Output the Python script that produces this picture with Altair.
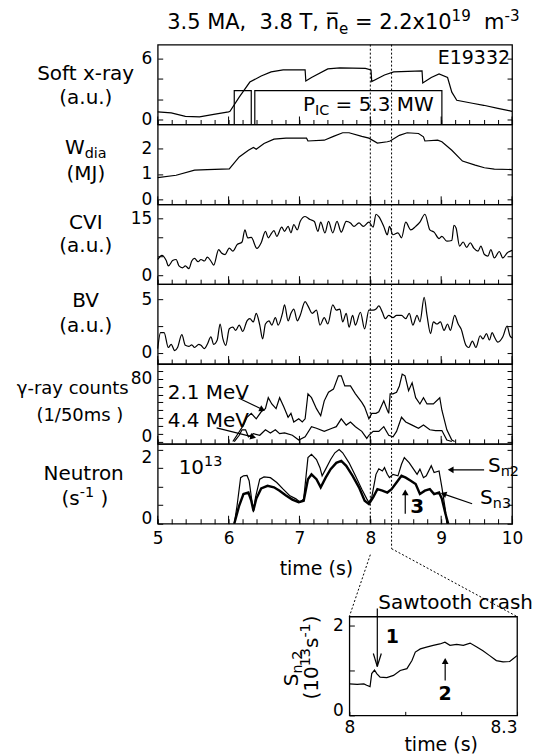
import math
import altair as alt
import pandas as pd

# ---------------- data ----------------
SXR_T = [5.0, 5.19, 5.39, 5.59, 5.79, 6.0, 6.02, 6.15, 6.3, 6.46, 6.6, 6.77, 7.08, 7.09, 7.17, 7.4, 7.57,
         7.93, 8.01, 8.02, 8.2, 8.33, 8.73, 8.74, 8.86, 8.97, 9.09, 9.15, 9.22, 9.44, 9.6, 9.8, 10.0]
SXR_V = [0.75, 0.65, 0.3, 0.25, 0.5, 0.75, 0.8, 2.2, 3.7, 4.3, 4.7, 4.9, 4.9, 3.8, 4.15, 5.0, 5.1,
         5.05, 4.9, 3.75, 4.4, 4.7, 4.8, 3.6, 4.15, 4.5, 4.15, 2.7, 1.9, 1.6, 1.4, 1.1, 0.8]

PIC_T = [5.0, 6.08, 6.08, 6.32, 6.32, 6.37, 6.37, 9.01, 9.01, 10.0]
PIC_MW = [0, 0, 5.3, 5.3, 0, 0, 5.3, 5.3, 0, 0]

WDIA_T = [5.0, 5.26, 5.52, 5.7, 6.01, 6.15, 6.28, 6.35, 6.39, 6.5, 6.64, 6.81, 7.1, 7.12, 7.35, 7.48,
          7.61, 7.7, 7.88, 7.98, 8.1, 8.24, 8.28, 8.41, 8.52, 8.68, 8.75, 8.77, 8.95, 9.01, 9.15,
          9.3, 9.48, 9.61, 9.75, 10.0]
WDIA_V = [0.86, 0.95, 1.15, 1.17, 1.2, 1.66, 1.92, 2.03, 1.96, 2.18, 2.35, 2.39, 2.39, 2.28, 2.31, 2.46,
          2.6, 2.6, 2.46, 2.39, 2.2, 2.25, 2.28, 2.5, 2.6, 2.57, 2.44, 2.28, 2.31, 2.25, 1.92,
          1.5, 1.34, 1.24, 1.19, 1.17]

CVI_T = [5.0, 5.06, 5.12, 5.15, 5.21, 5.26, 5.3, 5.35, 5.39, 5.44, 5.48, 5.52, 5.57, 5.61, 5.66, 5.7,
         5.75, 5.79, 5.86, 5.9, 5.95, 6.01, 6.06, 6.12, 6.19, 6.23, 6.27, 6.32, 6.4, 6.46, 6.52, 6.56,
         6.61, 6.64, 6.68, 6.75, 6.79, 6.84, 6.88, 6.92, 6.97, 7.01, 7.08, 7.15, 7.21, 7.26, 7.3,
         7.36, 7.41, 7.47, 7.53, 7.59, 7.66, 7.72, 7.77, 7.84, 7.9, 7.98, 8.04, 8.08, 8.12, 8.19,
         8.24, 8.27, 8.32, 8.39, 8.44, 8.5, 8.57, 8.64, 8.7, 8.77, 8.84, 8.9, 8.97, 9.01, 9.08,
         9.15, 9.18, 9.21, 9.26, 9.31, 9.36, 9.41, 9.46, 9.52, 9.56, 9.61, 9.66, 9.7, 9.75, 9.82,
         9.87, 9.93, 10.0]
CVI_V = [4.1, 5.2, 3.8, 2.4, 3.8, 4.1, 2.4, 1.9, 2.4, 1.7, 3.7, 4.4, 3.5, 4.1, 3.7, 4.7,
         3.7, 2.6, 6.7, 5.8, 5.4, 7.1, 6.3, 8.0, 8.7, 11.9, 9.8, 9.9, 7.0, 8.5, 11.5, 9.8,
         11.1, 11.7, 10.2, 12.6, 11.5, 12.8, 11.1, 13.3, 11.9, 14.1, 15.4, 14.6, 14.1, 11.5, 13.9,
         11.1, 14.1, 11.1, 14.1, 11.3, 14.1, 13.7, 12.8, 13.7, 12.8, 13.9, 12.6, 16.0, 15.4, 12.8,
         10.6, 12.8, 10.6, 11.1, 9.8, 13.9, 11.9, 12.8, 13.9, 16.0, 11.9, 11.3, 9.6, 10.2, 8.9,
         9.1, 13.1, 12.4, 7.6, 8.7, 7.3, 8.5, 7.1, 6.3, 7.6, 5.4, 5.0, 6.7, 4.5, 6.2,
         4.5, 5.8, 6.5]

BV_T = [5.0, 5.04, 5.09, 5.15, 5.19, 5.24, 5.28, 5.34, 5.39, 5.44, 5.48, 5.52, 5.58, 5.61, 5.66, 5.7,
        5.75, 5.79, 5.84, 5.88, 5.92, 5.96, 6.01, 6.06, 6.1, 6.15, 6.2, 6.26, 6.3, 6.35, 6.39, 6.44,
        6.48, 6.52, 6.57, 6.61, 6.66, 6.7, 6.76, 6.79, 6.84, 6.88, 6.92, 6.97, 7.01, 7.08, 7.12,
        7.18, 7.24, 7.29, 7.35, 7.4, 7.47, 7.52, 7.57, 7.61, 7.66, 7.7, 7.75, 7.79, 7.86, 7.92,
        7.98, 8.04, 8.08, 8.12, 8.17, 8.21, 8.26, 8.32, 8.37, 8.44, 8.5, 8.55, 8.6, 8.66, 8.7,
        8.76, 8.8, 8.85, 8.89, 8.94, 8.99, 9.04, 9.09, 9.13, 9.19, 9.24, 9.28, 9.35, 9.39, 9.44,
        9.49, 9.55, 9.59, 9.64, 9.68, 9.72, 9.75, 9.8, 9.87, 9.93, 9.97, 10.0]
BV_V = [0.4, 1.9, 1.9, 0.5, 0.8, 0.2, 0.5, 1.7, 0.7, 0.6, 0.75, 0.5, 0.8, 0.7, 0.4, 0.8,
        1.5, 0.8, 1.2, 2.7, 1.3, 0.7, 2.25, 2.4, 2.1, 2.6, 2.0, 3.0, 3.2, 2.9, 3.7, 2.6,
        1.3, 2.7, 3.0, 2.6, 3.3, 2.6, 3.7, 4.5, 3.0, 3.7, 4.1, 3.0, 3.5, 4.8, 4.4,
        3.7, 4.0, 2.6, 3.3, 2.7, 4.5, 4.0, 4.1, 2.9, 3.7, 2.4, 3.5, 2.6, 3.8, 2.25,
        4.0, 4.0, 4.1, 4.4, 3.8, 3.2, 3.5, 3.3, 3.5, 3.5, 3.2, 3.7, 2.6, 3.5, 2.9,
        5.2, 3.5, 1.8, 2.9, 2.7, 2.9, 2.1, 2.7, 2.1, 3.5, 2.7, 2.25, 0.7, 0.5, 1.1,
        0.5, 1.6, 1.3, 1.8, 1.2, 1.9, 1.5, 1.0, 1.5, 2.5, 1.6, 1.4]

G21_T = [6.06, 6.15, 6.21, 6.26, 6.32, 6.39, 6.46, 6.52, 6.56, 6.61, 6.67, 6.72, 6.78, 6.84, 6.88,
         6.92, 6.99, 7.04, 7.08, 7.12, 7.17, 7.24, 7.3, 7.35, 7.41, 7.48, 7.55, 7.59, 7.64, 7.72,
         7.79, 7.88, 7.92, 7.98, 8.02, 8.08, 8.12, 8.19, 8.24, 8.26, 8.28, 8.32, 8.37, 8.41, 8.45,
         8.49, 8.54, 8.59, 8.64, 8.7, 8.75, 8.8, 8.89, 8.98, 9.01, 9.08, 9.15, 9.19]
G21_V = [0, 12.5, 21, 31, 36, 29, 38, 42, 56, 48, 42, 56, 44, 31, 36,
         25, 29, 25, 29, 61, 56, 42, 33, 52, 63, 67, 84, 84, 71, 71,
         61, 50, 44, 29, 36, 36, 38, 52, 40, 36, 61, 61, 63, 71, 86,
         84, 65, 75, 56, 48, 56, 48, 48, 56, 40, 15, 2, 0]

G44_T = [6.08, 6.15, 6.19, 6.24, 6.28, 6.35, 6.44, 6.52, 6.59, 6.66, 6.72, 6.79, 6.9, 6.99, 7.08,
         7.17, 7.24, 7.35, 7.46, 7.52, 7.59, 7.66, 7.72, 7.79, 7.88, 7.95, 7.98, 8.04, 8.12, 8.19,
         8.26, 8.32, 8.37, 8.44, 8.5, 8.59, 8.68, 8.75, 8.84, 8.92, 9.01, 9.08, 9.15]
G44_V = [0, 8, 15, 15, 6, 10, 8, 15, 11, 15, 10, 11, 8, 2, 6,
         19, 17, 13, 17, 19, 29, 21, 25, 19, 13, 4, 8, 13, 13, 19,
         8, 6, 13, 31, 25, 21, 17, 21, 15, 14, 14, 2, 0]

SN2_T = [6.08, 6.12, 6.17, 6.21, 6.26, 6.29, 6.35, 6.38, 6.44, 6.5, 6.59, 6.68, 6.77, 6.86, 6.95,
         7.01, 7.06, 7.12, 7.17, 7.24, 7.29, 7.32, 7.37, 7.44, 7.5, 7.56, 7.61, 7.7, 7.79, 7.88,
         7.95, 7.98, 8.02, 8.08, 8.12, 8.17, 8.2, 8.24, 8.27, 8.32, 8.39, 8.44, 8.48, 8.55, 8.61,
         8.66, 8.7, 8.75, 8.79, 8.86, 8.9, 8.97, 9.01, 9.06, 9.08]
SN2_V = [0, 0.49, 1.24, 1.29, 1.3, 1.16, 0.31, 0.71, 1.2, 1.26, 1.24, 1.11, 0.93, 0.76, 0.67,
         0.58, 0.67, 1.78, 1.87, 1.73, 1.51, 1.29, 1.47, 1.73, 1.91, 2.0, 1.91, 1.64, 1.29, 0.93,
         0.67, 0.58, 0.71, 1.33, 1.48, 1.42, 1.51, 1.33, 1.24, 1.33, 1.29, 1.6, 1.78, 1.64, 1.47,
         1.33, 1.47, 1.24, 1.29, 1.56, 1.38, 1.42, 0.98, 0.36, 0]

SN3_T = [6.08, 6.15, 6.21, 6.28, 6.32, 6.35, 6.39, 6.46, 6.55, 6.64, 6.72, 6.81, 6.9, 6.99, 7.06,
         7.12, 7.17, 7.24, 7.3, 7.37, 7.44, 7.52, 7.59, 7.66, 7.75, 7.84, 7.92, 7.98, 8.04, 8.1,
         8.17, 8.24, 8.3, 8.37, 8.44, 8.5, 8.57, 8.64, 8.7, 8.77, 8.84, 8.9, 8.97, 9.01, 9.06, 9.1]
SN3_V = [0, 0.49, 0.8, 0.84, 0.62, 0.36, 0.67, 0.95, 1.02, 0.98, 0.89, 0.76, 0.65, 0.58, 0.62,
         1.2, 1.33, 1.2, 0.98, 1.24, 1.47, 1.64, 1.69, 1.56, 1.29, 0.98, 0.62, 0.53, 0.71, 0.93,
         0.89, 0.84, 0.93, 1.11, 1.29, 1.24, 1.16, 1.07, 0.8, 0.89, 0.93, 0.8, 0.84, 0.67, 0.27, 0]

ZOOM_T = [8.0, 8.014, 8.026, 8.031, 8.037, 8.04, 8.045, 8.049, 8.055, 8.067, 8.079, 8.091, 8.103,
          8.112, 8.118, 8.127, 8.138, 8.15, 8.162, 8.171, 8.18, 8.192, 8.204, 8.216, 8.228, 8.239,
          8.251, 8.263, 8.275, 8.287, 8.293, 8.3]
ZOOM_V = [0.7, 0.69, 0.7, 0.67, 0.64, 0.93, 1.01, 0.93, 0.85, 0.84, 0.89, 1.0, 1.04,
          1.22, 1.41, 1.48, 1.52, 1.56, 1.59, 1.63, 1.56, 1.58, 1.56, 1.61, 1.52, 1.44,
          1.33, 1.22, 1.19, 1.2, 1.26, 1.33]

MARK_T = [8.0, 8.3]
TIME_TICKS = [5, 6, 7, 8, 9, 10]

# ---------------- layout / style ----------------
FONT = "DejaVu Sans"
PW, PH = 355, 80
IW, IH = 168, 99
INSET_DX, INSET_GAP = 192, 93
LW = 1.2
ONE = pd.DataFrame({"k": [0]})
MINOR = [round(5 + 0.2 * k, 1) for k in range(26)]
PX_S = PW / 5.0

W = {' ': 0.318, '(': 0.39, ')': 0.39, ',': 0.318, '-': 0.361, '.': 0.318, '/': 0.337, '=': 0.838,
     'A': 0.684, 'B': 0.686, 'C': 0.698, 'E': 0.632, 'I': 0.295, 'J': 0.295, 'M': 0.863, 'N': 0.748,
     'P': 0.603, 'S': 0.635, 'T': 0.611, 'V': 0.684, 'W': 0.989, 'a': 0.613, 'b': 0.635, 'c': 0.55,
     'd': 0.635, 'e': 0.615, 'f': 0.352, 'g': 0.635, 'h': 0.634, 'i': 0.278, 'k': 0.579, 'l': 0.278,
     'm': 0.974, 'n': 0.634, 'o': 0.612, 'r': 0.411, 's': 0.521, 't': 0.392, 'u': 0.634, 'v': 0.592,
     'w': 0.818, 'x': 0.592, 'y': 0.592, '\u03b3': 0.6, '\u0305': 0.0}


def tw(s, size):
    return sum(W.get(c, 0.636 if c.isdigit() else 0.6) for c in s) * size


def series(T, V):
    assert len(T) == len(V), (len(T), len(V))
    return pd.DataFrame({"t": T, "v": V, "i": list(range(len(T)))})


def label_expr(vals):
    expr = "''"
    for val in reversed(vals):
        expr = f"(abs(datum.value - {val}) < 1e-6 ? '{val:g}' : {expr})"
    return expr


def x_main(labels):
    return alt.X("t:Q", scale=alt.Scale(domain=[5, 10], nice=False, zero=False),
                 axis=alt.Axis(values=MINOR, labels=labels, labelExpr=label_expr(TIME_TICKS),
                               offset=-5, tickSize=5, domain=False, grid=False, title=None,
                               labelPadding=7, labelFlush=False, labelOverlap=False))


def y_enc(domain, values, labeled, bottom_label=None, top_label=None):
    kw = dict(values=values, labelExpr=label_expr(labeled), offset=-5, tickSize=5, domain=False,
              grid=False, title=None, labelPadding=6, labelFlush=False, labelOverlap=False)
    if bottom_label is not None or top_label is not None:
        tests = []
        if bottom_label is not None:
            tests.append(f"abs(datum.value - {bottom_label}) < 1e-6 ? 'alphabetic'")
        if top_label is not None:
            tests.append(f"abs(datum.value - {top_label}) < 1e-6 ? 'top'")
        kw["labelBaseline"] = {"expr": " : ".join(tests) + " : 'middle'"}
    return alt.Y("v:Q", scale=alt.Scale(domain=domain, nice=False, zero=False), axis=alt.Axis(**kw))


def y_plain(domain):
    return alt.Y("v:Q", scale=alt.Scale(domain=domain, nice=False, zero=False), axis=None)


def y_right(domain, values):
    return alt.Y("v:Q", scale=alt.Scale(domain=domain, nice=False, zero=False),
                 axis=alt.Axis(orient="right", values=values, labels=False, offset=-5, tickSize=5,
                               domain=False, grid=False, title=None))


def line(T, V, xe, ye, width=LW, interp="linear", opacity=1):
    return alt.Chart(series(T, V)).mark_line(color="black", strokeWidth=width, interpolate=interp,
                                             strokeOpacity=opacity).encode(
        x=xe, y=ye, order=alt.Order("i:Q"))


def marks(xe):
    return alt.Chart(pd.DataFrame({"t": MARK_T})).mark_rule(
        color="black", strokeWidth=1, strokeDash=[2, 2]).encode(x=xe)


def major_ticks(xe):
    # longer inward ticks at whole seconds
    return alt.Chart(pd.DataFrame({"t": TIME_TICKS})).mark_rule(color="black", strokeWidth=1).encode(
        x=xe, y=alt.value(PH - 8), y2=alt.value(PH))


def txt(s, x, y, size=20, align="left", weight="normal", angle=0):
    return alt.Chart(ONE).mark_text(text=s.replace(" ", "\u00a0"), font=FONT, fontSize=size,
                                    fontWeight=weight, align=align, baseline="middle", angle=angle,
                                    color="black").encode(x=alt.value(x), y=alt.value(y))


def _split(t):
    core = t.strip(" ")
    lead = len(t) - len(t.lstrip(" "))
    return core, lead


def rich(pieces, x, y, size=20, anchor="left", sup=0.3):
    sizes = [size * 0.72 if m in ("sup", "sub") else size for _, m in pieces]
    widths = [tw(t, s) for (t, _), s in zip(pieces, sizes)]
    total = sum(widths)
    if anchor == "center":
        x -= total / 2
    elif anchor == "right":
        x -= total
    out = []
    for (t, m), s, w in zip(pieces, sizes, widths):
        dy = -sup * size if m == "sup" else (0.3 * size if m == "sub" else 0)
        core, lead = _split(t)
        out.append(txt(core, x + lead * W[" "] * s, y + dy, s, weight="bold" if m == "b" else "normal"))
        x += w
    return out


def rich_up(pieces, x, yc, size=20):
    sizes = [size * 0.72 if m in ("sup", "sub") else size for _, m in pieces]
    widths = [tw(t, s) for (t, _), s in zip(pieces, sizes)]
    y = yc + sum(widths) / 2
    out = []
    for (t, m), s, w in zip(pieces, sizes, widths):
        dx = -0.3 * size if m == "sup" else (0.3 * size if m == "sub" else 0)
        core, lead = _split(t)
        out.append(txt(core, x + dx, y - lead * W[" "] * s, s, angle=270))
        y -= w
    return out


def rule_px(x1, y1, x2, y2, width=LW, dash=None, opacity=1):
    kw = dict(color="black", strokeWidth=width, strokeOpacity=opacity)
    if dash:
        kw["strokeDash"] = dash
    return alt.Chart(ONE).mark_rule(**kw).encode(x=alt.value(x1), y=alt.value(y1),
                                                 x2=alt.value(x2), y2=alt.value(y2))


def arrow_px(x1, y1, x2, y2, size=45):
    ang = math.degrees(math.atan2(x2 - x1, -(y2 - y1))) % 360
    L = math.hypot(x2 - x1, y2 - y1)
    ux, uy = (x2 - x1) / L, (y2 - y1) / L
    head = alt.Chart(ONE).mark_point(shape="triangle-up", filled=True, size=size, angle=ang,
                                     color="black", opacity=1).encode(
        x=alt.value(x2 - 3.5 * ux), y=alt.value(y2 - 3.5 * uy))
    return [rule_px(x1, y1, x2 - 4 * ux, y2 - 4 * uy), head]


def ytitle(lines, x=-72, size=20):
    out = []
    for pieces, y, cx in lines:
        out += rich(pieces, cx if cx is not None else x, y, size, "center")
    return out


def blank(w, h):
    return alt.Chart(ONE).mark_point(opacity=0).encode(x=alt.value(0), y=alt.value(0)).properties(
        width=w, height=h, view=alt.ViewBackground(stroke="transparent"))


def panel(layers):
    return alt.layer(*layers).resolve_scale(y="independent").properties(width=PW, height=PH)


xe = x_main(False)

# ---------------- panel 0 : soft x-ray ----------------
D = [-0.5, 7.4]
TK = [0, 2, 4, 6]
p0_layers = [line(SXR_T, SXR_V, xe, y_enc(D, TK, [0, 6])),
             line(PIC_T, PIC_MW, xe, y_plain([0, 12.5])),
             line(SXR_T, SXR_V, xe, y_right(D, TK), opacity=0), marks(xe), major_ticks(xe)]
p0_layers += rich([("3.5 MA,  3.8 T, ", "n"), ("n\u0305", "n"), ("e", "sub"), (" = 2.2x10", "n"),
                   ("19", "sup"), ("  m", "n"), ("-3", "sup")], 186, -22, 21, "center")
p0_layers += [txt("E19332", 353, 13, 19, align="right")]
p0_layers += rich([("P", "n"), ("IC", "sub"), (" = 5.3 MW", "n")], 211, 60, 20, "center")
p0_layers += ytitle([([("Soft x-ray", "n")], 29, None), ([("(a.u.)", "n")], 53, None)])
p0_layers += [rule_px(-149, -35, -148, -35, opacity=0)]
p0 = panel(p0_layers)

# ---------------- panel 1 : W_dia ----------------
D = [-0.18, 2.92]
TK = [0, 1, 2]
p1_layers = [line(WDIA_T, WDIA_V, xe, y_enc(D, TK, TK)),
             line(WDIA_T, WDIA_V, xe, y_right(D, TK), opacity=0), marks(xe), major_ticks(xe)]
p1_layers += ytitle([([("W", "n"), ("dia", "sub")], 24, None), ([("(MJ)", "n")], 50, None)])
p1 = panel(p1_layers)

# ---------------- panel 2 : CVI ----------------
D = [-2.4, 18.6]
TK = [0, 5, 10, 15]
p2_layers = [line(CVI_T, CVI_V, xe, y_enc(D, TK, [0, 15]), interp="monotone"),
             line(CVI_T, CVI_V, xe, y_right(D, TK), opacity=0), marks(xe), major_ticks(xe)]
p2_layers += ytitle([([("CVI", "n")], 19, None), ([("(a.u.)", "n")], 42, None)])
p2 = panel(p2_layers)

# ---------------- panel 3 : BV ----------------
D = [-1.05, 6.43]
TK = [0, 2.5, 5]
p3_layers = [line(BV_T, BV_V, xe, y_enc(D, TK, [0, 5]), interp="monotone"),
             line(BV_T, BV_V, xe, y_right(D, TK), opacity=0), marks(xe), major_ticks(xe)]
p3_layers += ytitle([([("BV", "n")], 17, None), ([("(a.u.)", "n")], 42, None)])
p3 = panel(p3_layers)

# ---------------- panel 4 : gamma ----------------
D = [-3, 99]
TK = list(range(0, 100, 10))
p4_layers = [line(G21_T, G21_V, xe, y_enc(D, TK, [0, 80], bottom_label=0)),
             line(G44_T, G44_V, xe, y_plain(D)),
             line(G21_T, G21_V, xe, y_right(D, TK), opacity=0), marks(xe), major_ticks(xe)]
p4_layers += [txt("2.1 MeV", 10, 29), txt("4.4 MeV", 10, 57)]
p4_layers += arrow_px(81, 34, 108, 47) + arrow_px(59, 64, 99, 74)
p4_layers += ytitle([([("\u03b3-ray counts", "n")], 25, -85), ([("(1/50ms )", "n")], 52, -78)], size=18)
p4 = panel(p4_layers)

# ---------------- panel 5 : neutrons ----------------
xe5 = x_main(True)
D = [0, 2.15]
TK = [0, 0.5, 1, 1.5, 2]
x8 = (8.0 - 5) * PX_S
x83 = (8.3 - 5) * PX_S
p5_layers = [line(SN2_T, SN2_V, xe5, y_enc(D, TK, [0, 2], bottom_label=0, top_label=2)),
             line(SN3_T, SN3_V, xe5, y_plain(D), width=2.4),
             line(SN2_T, SN2_V, xe5, y_right(D, TK), opacity=0), marks(xe5), major_ticks(xe5)]
p5_layers += rich([("10", "n"), ("13", "sup")], 21, 24, 20)
p5_layers += rich([("S", "n"), ("n2", "sub")], 331, 22, 20)
p5_layers += rich([("S", "n"), ("n3", "sub")], 323, 54, 20)
p5_layers += arrow_px(327, 26, 290, 26) + arrow_px(315, 60, 283, 49) + arrow_px(248, 70, 248, 45)
p5_layers += [txt("3", 253, 63, 20, weight="bold")]
p5_layers += [txt("time (s)", 159, 125, 19, align="center")]
p5_layers += ytitle([([("Neutron", "n")], 30, -74), ([("(s", "n"), ("-1", "sup"), (" )", "n")], 55, -73)])
# dotted connectors to the zoomed panel
p5_layers += [rule_px(x83, PH, x83, PH + 25, width=1, dash=[2, 2]),
              rule_px(x83, PH + 25, INSET_DX + IW, PH + INSET_GAP, width=1, dash=[2, 2]),
              rule_px(x8, PH + 31, INSET_DX, PH + INSET_GAP, width=1, dash=[2, 2])]
p5 = panel(p5_layers)

# ---------------- inset : sawtooth zoom ----------------
xi = alt.X("t:Q", scale=alt.Scale(domain=[8.0, 8.3], nice=False, zero=False),
           axis=alt.Axis(values=[8.0, 8.1, 8.2, 8.3], labelExpr=label_expr([8, 8.3]), offset=-4,
                         tickSize=4, domain=False, grid=False, title=None, labelPadding=4,
                         labelFlush=False, labelOverlap=False,
                         labelAlign={"condition": {"test": "datum.value > 8.25", "value": "right"},
                                     "value": "center"}))
yi = y_enc([0, 2.2], [0, 1, 2], [0, 2], bottom_label=0)
in_layers = [line(ZOOM_T, ZOOM_V, xi, yi)]
in_layers += [txt("Sawtooth crash", 29, -14, 20)]
in_layers += [rule_px(28, -8, 28, 50), rule_px(28, 50, 24, 37), rule_px(28, 50, 32, 37)]
in_layers += [txt("1", 43, 20, 19, weight="bold", align="center")]
in_layers += arrow_px(96, 64, 96, 41)
in_layers += [txt("2", 96, 78, 19, weight="bold", align="center")]
in_layers += [txt("time (s)", 92, 129, 19, align="center")]
in_layers += rich_up([("S", "n"), ("n 2", "sub")], -57, 52, 20)
in_layers += rich_up([("(10", "n"), ("13", "sup"), ("s", "n"), ("-1", "sup"), (")", "n")], -37, 41, 20)
inset = alt.layer(*in_layers).properties(width=IW, height=IH)

bottom = alt.hconcat(blank(INSET_DX, IH), inset, spacing=0, bounds="flush")
chart = alt.vconcat(p0, p1, p2, p3, p4, p5, blank(PW, INSET_GAP), bottom,
                    spacing=0, bounds="flush").properties(
    padding={"left": 0, "top": 0, "right": 4, "bottom": 4}
).configure_view(stroke="black", strokeWidth=1.3).configure_axis(
    labelFont=FONT, labelFontSize=17, labelColor="black", tickColor="black", tickWidth=1
)

chart.save("out.html", embed_options={"renderer": "svg", "actions": False})
